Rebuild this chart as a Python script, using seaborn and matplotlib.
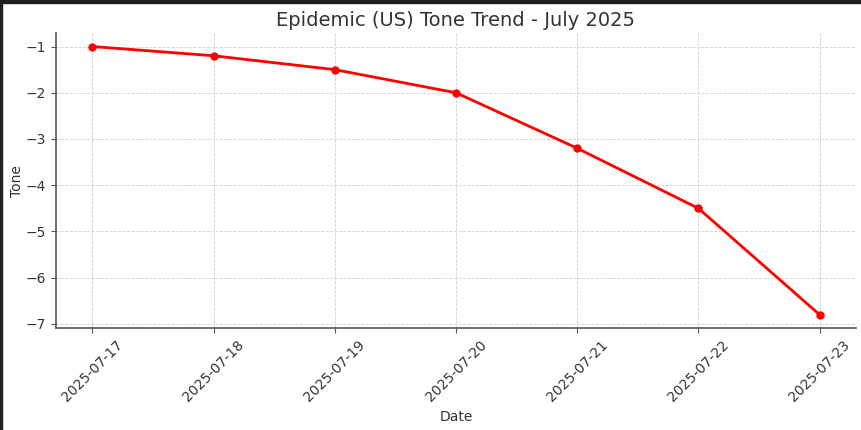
import matplotlib
matplotlib.use("Agg")
import matplotlib.pyplot as plt
import matplotlib.dates as mdates
from matplotlib.patches import Rectangle
import seaborn as sns
import pandas as pd

dates = ["2025-07-17", "2025-07-18", "2025-07-19", "2025-07-20",
         "2025-07-21", "2025-07-22", "2025-07-23"]
tone = [-1.0, -1.2, -1.5, -2.0, -3.2, -4.5, -6.8]

df = pd.DataFrame({"Date": pd.to_datetime(dates), "Tone": tone})

sns.set_style("whitegrid", {
    "grid.linestyle": "--",
    "grid.color": "#d0d0d0",
    "axes.edgecolor": "#555555",
    "xtick.bottom": True,
    "ytick.left": True,
})
plt.rcParams["font.family"] = ["DejaVu Sans"]
text_color = "#333333"
plt.rcParams["text.color"] = text_color
plt.rcParams["axes.labelcolor"] = text_color
plt.rcParams["xtick.color"] = text_color
plt.rcParams["ytick.color"] = text_color

fig, ax = plt.subplots(figsize=(8.62, 4.30), dpi=100)
sns.lineplot(data=df, x="Date", y="Tone", color="red", linewidth=2,
             marker="o", markersize=6, markeredgewidth=0, ax=ax)

ax.set_title("Epidemic (US) Tone Trend - July 2025", fontsize=14, color="#333333", pad=5)
ax.set_xlabel("Date", fontsize=10)
ax.set_ylabel("Tone", fontsize=10, labelpad=1)
ax.set_xticks(df["Date"])
ax.xaxis.set_major_formatter(mdates.DateFormatter("%Y-%m-%d"))
plt.setp(ax.get_xticklabels(), rotation=45, fontsize=10)
plt.setp(ax.get_yticklabels(), fontsize=10)
ax.tick_params(axis="both", length=3.5, width=0.8, color="#555555")
ax.grid(True, linestyle="--", linewidth=0.6, color="#d0d0d0")
for s in ["top", "right"]:
    ax.spines[s].set_visible(False)
for s in ["left", "bottom"]:
    ax.spines[s].set_linewidth(1.2)
    ax.spines[s].set_color("#555555")

fig.subplots_adjust(left=0.065, right=0.993, top=0.923, bottom=0.237)

# screenshot border
fig.add_artist(Rectangle((0, 1 - 3 / 430), 1, 3 / 430, transform=fig.transFigure,
                         color="#202020", zorder=10))
fig.add_artist(Rectangle((0, 0), 2 / 862, 1, transform=fig.transFigure,
                         color="#202020", zorder=10))

fig.savefig("out.png", dpi=100)
